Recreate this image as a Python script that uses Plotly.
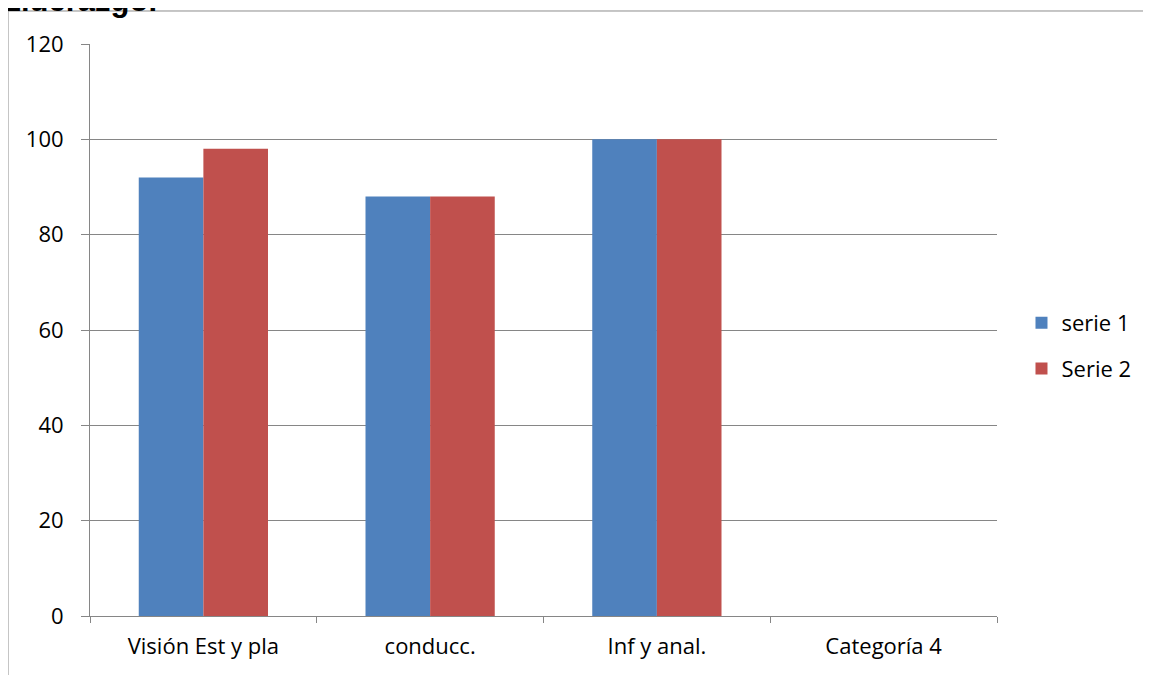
import plotly.graph_objects as go

categories = ["Visión Est y pla", "conducc.", "Inf y anal.", "Categoría 4"]
serie_1 = [92, 88, 100, None]
serie_2 = [98, 88, 100, None]
series_names = ["serie 1", "Serie 2"]
y_ticks = [0, 20, 40, 60, 80, 100, 120]

FONT = "Open Sans, sans-serif"
GRID = "#868686"

fig = go.Figure()
fig.add_trace(go.Bar(x=categories, y=serie_1, name=series_names[0],
                     marker=dict(color="#4F81BD", line=dict(width=0)),
                     legendgroup="a"))
fig.add_trace(go.Bar(x=categories, y=serie_2, name=series_names[1],
                     marker=dict(color="#C0504D", line=dict(width=0)),
                     legendgroup="b"))

# outer chart border (left + top), outside the plot area
fig.add_shape(type="line", xref="paper", yref="paper",
              x0=-0.0904, x1=-0.0904, y0=-0.2, y1=1.0577,
              line=dict(color="#8c8c8c", width=1))
fig.add_shape(type="line", xref="paper", yref="paper",
              x0=-0.0904, x1=1.3, y0=1.0577, y1=1.0577,
              line=dict(color="#8c8c8c", width=1))

# title, cut off at the top as in the source
fig.add_annotation(text="<b>Liderazgo.</b>", xref="paper", yref="paper",
                   x=-0.0992, y=1.042, xanchor="left", yanchor="bottom",
                   showarrow=False,
                   font=dict(family="Liberation Sans, Arial", size=31, color="black"))

fig.update_layout(
    width=1143, height=667,
    margin=dict(l=82, r=154, t=36, b=59),
    paper_bgcolor="white", plot_bgcolor="white",
    barmode="group", bargap=0.43, bargroupgap=0,
    font=dict(family=FONT, size=22, color="black"),
    legend=dict(x=1.027, y=0.472, xanchor="left", yanchor="middle",
                traceorder="grouped", tracegroupgap=14,
                font=dict(size=22)),
    xaxis=dict(showline=True, linecolor=GRID, linewidth=1,
               ticks="outside", tickson="boundaries", ticklen=6, tickcolor=GRID,
               showgrid=False, tickfont=dict(size=22), ticklabelstandoff=11),
    yaxis=dict(range=[0, 120], tickvals=y_ticks, showline=True, linecolor=GRID,
               ticks="outside", ticklen=8, tickcolor=GRID,
               showgrid=True, gridcolor=GRID, gridwidth=1, zeroline=False,
               tickfont=dict(size=22), ticklabelstandoff=13),
)

fig.write_html("out.html")
